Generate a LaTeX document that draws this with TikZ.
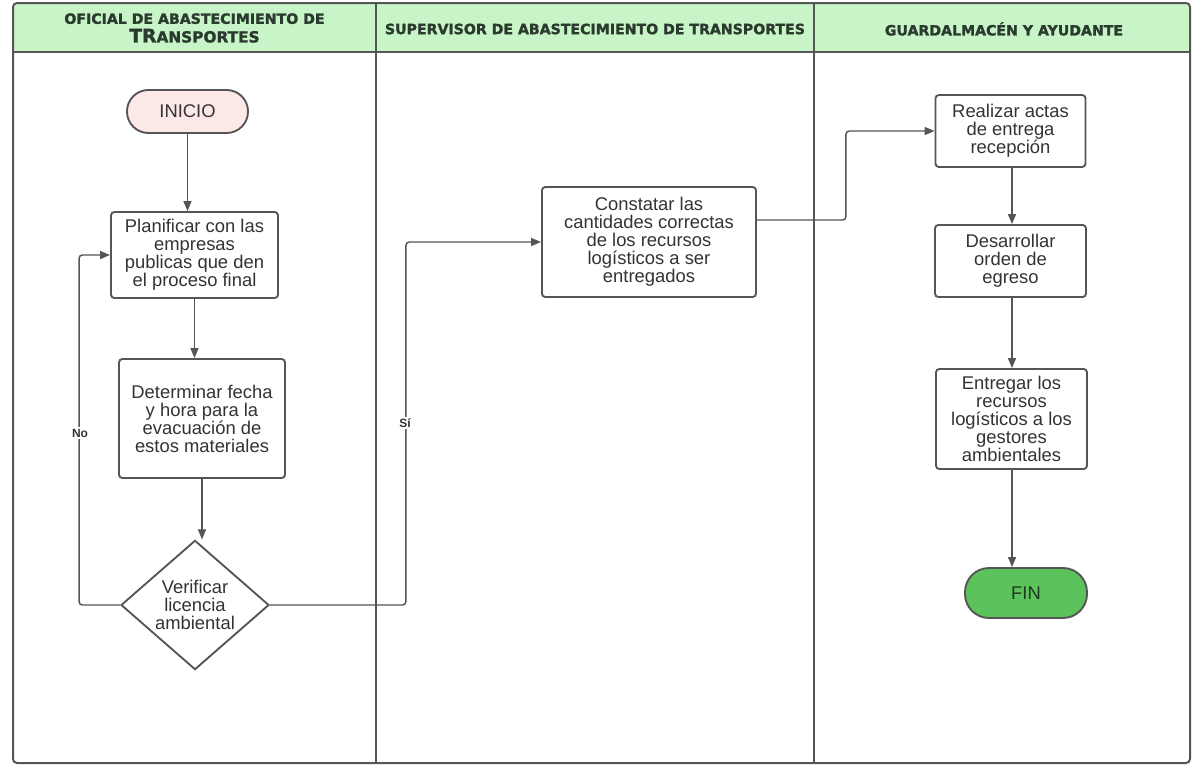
\documentclass[tikz,border=0pt]{standalone}
\usepackage{fontspec}
\setmainfont{Liberation Sans}
\newfontfamily\hdrfont[BoldFeatures={FakeBold=1.6}]{DejaVu Sans}
\usetikzlibrary{shapes.geometric,arrows.meta}
\definecolor{lineg}{HTML}{555555}
\definecolor{hdrfill}{HTML}{C8F5C8}
\definecolor{hdrtext}{HTML}{2B3A2E}
\definecolor{txtg}{HTML}{333333}
\definecolor{startfill}{HTML}{FDE8E8}
\definecolor{endfill}{HTML}{5CC25C}
\definecolor{endtext}{HTML}{1E3A1E}
\begin{document}
\begin{tikzpicture}[x=0.75pt,y=-0.75pt,
  lane/.style={draw=lineg,line width=1.5pt},
  hdr/.style={font=\hdrfont\bfseries\fontsize{10.6}{13}\selectfont,text=hdrtext,inner sep=0pt,align=center},
  proc/.style={draw=lineg,line width=1.4pt,rounded corners=2.5pt,fill=white,align=center,text=txtg,
    font=\fontsize{13.8}{13.5}\selectfont,inner sep=0pt},
  term/.style={draw=lineg,line width=1.4pt,rounded corners=16pt,align=center,
    font=\fontsize{13.8}{13.5}\selectfont,inner sep=0pt},
  dec/.style={diamond,draw=lineg,line width=1.4pt,fill=white,align=center,text=txtg,
    font=\fontsize{13.8}{13.5}\selectfont,inner sep=0pt,minimum width=111pt,minimum height=90pt},
  arr/.style={draw=lineg,line width=1.1pt,rounded corners=2.5pt,-{Triangle[length=7.5pt,width=6pt]}},
  lbl/.style={font=\bfseries\fontsize{9}{10}\selectfont,text=txtg,fill=white,inner sep=1pt}
]
\useasboundingbox (0,0) rectangle (1192,764);
% lanes
\path[fill=hdrfill] (13,3) rectangle (1190,52);
\draw[lane,rounded corners=3pt] (13,3) rectangle (1190,763);
\draw[lane] (13,52) -- (1190,52);
\draw[lane] (376,3) -- (376,763);
\draw[lane] (814,3) -- (814,763);
\node[hdr] (h1) at (194.5,28) {OFICIAL DE ABASTECIMIENTO DE\\[1pt]{\fontsize{14}{14}\selectfont TR}{\fontsize{11.5}{14}\selectfont ANSPORTES}};
\node[hdr] (h2) at (595,29) {SUPERVISOR DE ABASTECIMIENTO DE TRANSPORTES};
\node[hdr] (h3) at (1004,29) {GUARDALMACÉN Y AYUDANTE};
% nodes
\node[term,fill=startfill,text=txtg,minimum width=90.75pt,minimum height=32.25pt] (ini) at (187.5,111.5) {INICIO};
\node[proc,minimum width=125.25pt,minimum height=64.5pt] (plan) at (194.5,255) {Planificar con las\\empresas\\publicas que den\\el proceso final};
\node[proc,minimum width=124.5pt,minimum height=89.25pt] (det) at (202,418.5) {Determinar fecha\\y hora para la\\evacuación de\\estos materiales};
\node[dec] (dia) at (195,605) {Verificar\\licencia\\ambiental};
\node[proc,minimum width=160.5pt,minimum height=82.5pt] (const) at (649,242) {Constatar las\\cantidades correctas\\de los recursos\\logísticos a ser\\entregados};
\node[proc,minimum width=112.5pt,minimum height=54pt] (real) at (1010.5,131) {Realizar actas\\de entrega\\recepción};
\node[proc,minimum width=113.25pt,minimum height=54pt] (des) at (1010.5,261) {Desarrollar\\orden de\\egreso};
\node[proc,minimum width=113.25pt,minimum height=75pt] (ent) at (1011.5,419) {Entregar los\\recursos\\logísticos a los\\gestores\\ambientales};
\node[term,fill=endfill,text=endtext,rounded corners=18pt,minimum width=91.5pt,minimum height=37.5pt] (fin) at (1026,593) {FIN};
% connectors
\draw[arr] (ini.south) -- (ini.south |- plan.north);
\draw[arr] (plan.south) -- (plan.south |- det.north);
\draw[arr] ([xshift=5.25pt]dia.north |- det.south) -- ([xshift=5.25pt]dia.north);
\draw[arr] (dia.west) -- ++(-41,0) |- (plan.west);
\draw[arr] (dia.east) -- ++(136,0) |- (const.west);
\draw[arr] ([yshift=16.5pt]const.east) -- ++(89,0) |- (real.west);
\draw[arr] ([xshift=1.1pt]real.south) -- ([xshift=1.1pt]real.south |- des.north);
\draw[arr] ([xshift=1.1pt]des.south) -- ([xshift=1.1pt]des.south |- ent.north);
\draw[arr] ([xshift=0.4pt]ent.south) -- ([xshift=0.4pt]ent.south |- fin.north);
\node[lbl] (no) at (80,433) {No};
\node[lbl] (si) at (405,423) {Sí};
\end{tikzpicture}
\end{document}
